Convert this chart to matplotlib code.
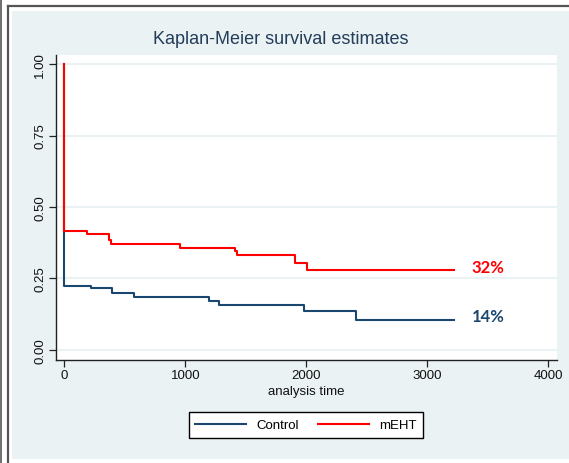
import matplotlib
matplotlib.use("Agg")
import matplotlib.pyplot as plt
from matplotlib.patches import Rectangle
from matplotlib.lines import Line2D

plt.rcParams['font.family'] = ['Liberation Sans', 'DejaVu Sans']

# Kaplan-Meier step estimates (time in days, survival probability)
control_t = [0, 0, 218, 397, 579, 1198, 1281, 1981, 2411, 3221]
control_s = [1.0, 0.224, 0.215, 0.197, 0.183, 0.170, 0.157, 0.136, 0.104, 0.104]
meht_t = [0, 0, 185, 372, 386, 959, 1413, 1427, 1907, 2008, 3221]
meht_s = [1.0, 0.415, 0.406, 0.383, 0.370, 0.356, 0.345, 0.330, 0.303, 0.279, 0.279]

group_names = ["Control", "mEHT"]
end_labels = ["14%", "32%"]
label_y = [0.119, 0.288]

navy = "#1a476f"
red = "#ff0000"
bg = "#eaf2f3"

W, H = 569, 464
fig = plt.figure(figsize=(W / 100, H / 100), dpi=100, facecolor="white")

# stata-like graph region and outer frame
fig.patches.append(Rectangle((12 / W, (H - 460) / H), (W - 12) / W, 448 / H,
                             transform=fig.transFigure, facecolor=bg, edgecolor="none", zorder=-5))
fig.lines.append(Line2D([7.5 / W, 1], [1 - 6.5 / H, 1 - 6.5 / H], transform=fig.transFigure,
                        color="#555555", lw=1.6, zorder=-4))
fig.lines.append(Line2D([7.5 / W, 7.5 / W], [0, 1 - 6.5 / H], transform=fig.transFigure,
                        color="#555555", lw=1.6, zorder=-4))
fig.lines.append(Line2D([1 / W, 1 / W], [0, 1], transform=fig.transFigure,
                        color="#555555", lw=1.2, zorder=-4))

ax = fig.add_axes([56 / W, (H - 360.7) / H, (556.7 - 56) / W, (360.7 - 56) / H])
ax.set_facecolor("white")

ax.plot(control_t, control_s, drawstyle="steps-post", color=navy, lw=1.5, label=group_names[0])
ax.plot(meht_t, meht_s, drawstyle="steps-post", color=red, lw=1.5, label=group_names[1])

ax.text(3366, label_y[1], end_labels[1], color=red, fontsize=12, fontweight="bold",
        family=["Lato", "DejaVu Sans"], va="center", ha="left")
ax.text(3366, label_y[0], end_labels[0], color=navy, fontsize=12, fontweight="bold",
        family=["Lato", "DejaVu Sans"], va="center", ha="left")

ax.set_xlim(-69, 4069)
ax.set_ylim(-0.035, 1.032)
ax.set_xticks([0, 1000, 2000, 3000, 4000])
ax.set_yticks([0, 0.25, 0.5, 0.75, 1.0])
ax.set_yticklabels(["0.00", "0.25", "0.50", "0.75", "1.00"], rotation=90, va="center")
ax.yaxis.grid(True, color=bg, lw=1.5)
ax.set_axisbelow(True)
for side in ["top", "right"]:
    ax.spines[side].set_visible(False)
for side in ["left", "bottom"]:
    ax.spines[side].set_color("#222222")
    ax.spines[side].set_linewidth(1.0)
ax.tick_params(axis="both", direction="out", length=5, width=0.9, color="#222222",
               labelsize=9.5, labelcolor="#111111", pad=2)

fig.text(306 / W, 1 - 392 / H, "analysis time", ha="center", va="center", fontsize=9.5,
         color="#111111")
fig.text(281 / W, 1 - 40 / H, "Kaplan-Meier survival estimates", ha="center", va="center",
         fontsize=13, color="#233d5a")

leg = fig.legend(loc="center", bbox_to_anchor=(306 / W, 1 - 426 / H), ncol=2, fontsize=9.5,
                 frameon=True, fancybox=False, edgecolor="black", facecolor="white",
                 handlelength=3.8, columnspacing=1.5, borderpad=0.5)
leg.get_frame().set_linewidth(1.0)
leg.get_frame().set_alpha(1)

fig.savefig("out.png", dpi=100, facecolor="white")
